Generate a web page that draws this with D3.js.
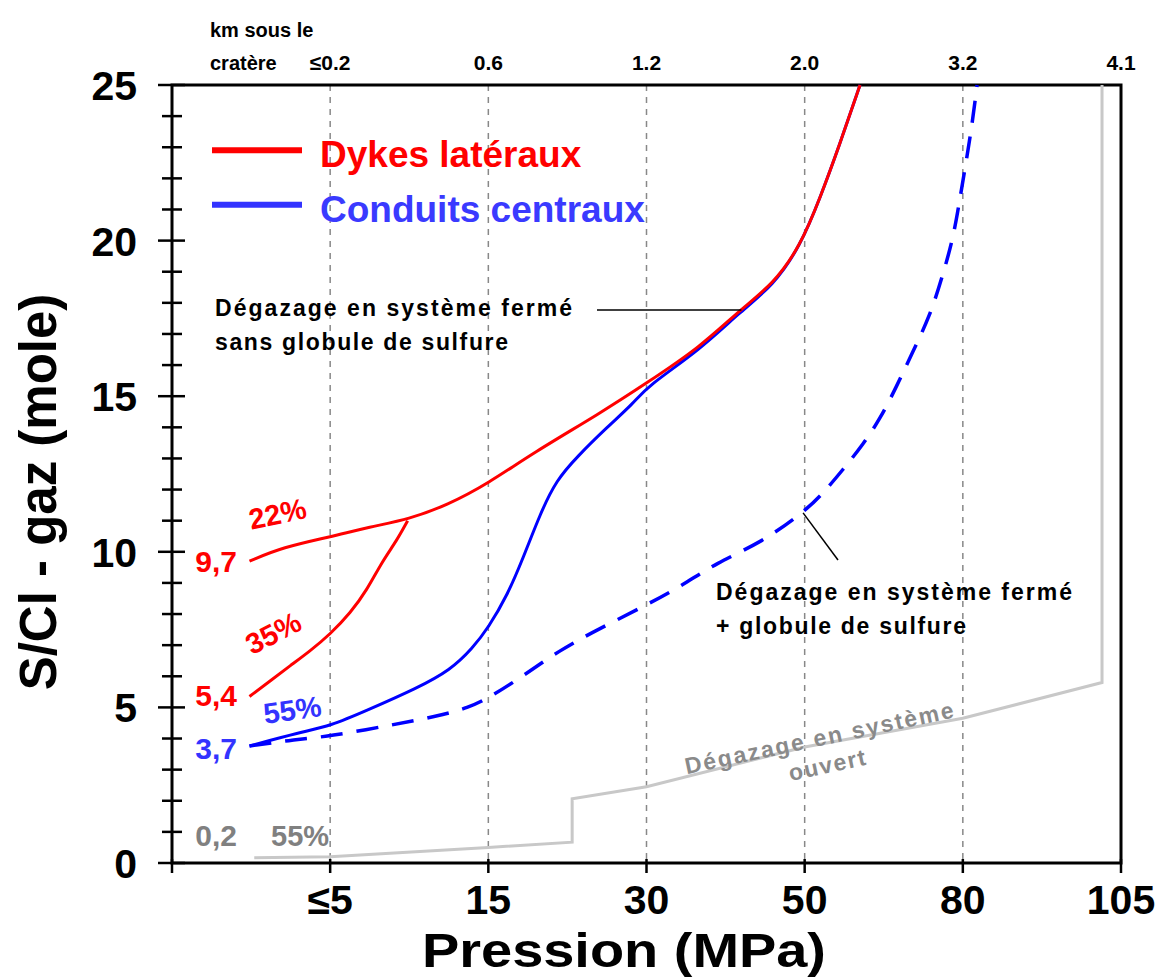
<!DOCTYPE html>
<html>
<head>
<meta charset="utf-8">
<script src="https://cdn.jsdelivr.net/npm/d3@7"></script>
<style>
  body { margin: 0; background: #fff; }
  text { font-family: Arial, "Liberation Sans", sans-serif; font-weight: bold; }
</style>
</head>
<body>
<div id="chart"></div>
<script>
// x positions are slot indexes: 0 = left axis, 1..6 = pressure ticks
var pressureLabels = ["≤5", "15", "30", "50", "80", "105"];
var depthLabels = ["≤0.2", "0.6", "1.2", "2.0", "3.2", "4.1"];
var yTicks = [0, 5, 10, 15, 20, 25];

// Dykes latéraux, 22%
var red22 = [[0.49,9.7],[0.7,10.15],[1.0,10.48],[1.25,10.8],[1.5,11.05],[1.74,11.5],[2.0,12.2],
  [2.28,13.17],[2.71,14.46],[3.0,15.42],[3.34,16.58],[3.59,17.77],[3.8,18.6],[3.97,19.8],
  [4.1,21.4],[4.22,23.07],[4.35,25.0]];
// Dykes latéraux, 35%
var red35 = [[0.49,5.35],[0.62,5.85],[0.75,6.35],[0.87,6.8],[1.0,7.35],[1.13,8.05],[1.23,8.75],
  [1.33,9.7],[1.42,10.35],[1.49,11.0]];
// Conduits centraux, 55%, closed system without sulfide
var blueSolid = [[0.49,3.76],[0.81,4.2],[1.0,4.4],[1.23,4.9],[1.55,5.62],[1.76,6.2],[1.9,6.9],
  [2.0,7.56],[2.12,8.6],[2.22,9.8],[2.33,11.25],[2.43,12.3],[2.56,13.05],[2.75,14.0],[2.92,14.78],
  [3.0,15.3],[3.34,16.5],[3.59,17.7],[3.8,18.55],[3.97,19.8],[4.1,21.4],[4.22,23.07],[4.35,25.0]];
// closed system + sulfide
var blueDash = [[0.49,3.76],[0.75,3.95],[1.0,4.07],[1.38,4.43],[1.67,4.7],[1.88,5.0],[2.0,5.3],
  [2.2,5.94],[2.45,6.84],[2.71,7.55],[3.0,8.29],[3.23,8.93],[3.44,9.64],[3.72,10.28],[3.99,11.25],
  [4.12,11.9],[4.24,12.63],[4.37,13.45],[4.48,14.3],[4.58,15.3],[4.68,16.39],[4.79,17.55],
  [4.87,18.83],[4.94,20.1],[4.98,21.3],[5.02,22.5],[5.06,23.78],[5.09,25.0]];
// open system
var grayOpen = [[0.52,0.17],[1.0,0.2],[2.0,0.5],[2.53,0.67],[2.53,2.06],[3.0,2.45],[4.0,3.73],
  [5.0,4.65],[5.88,5.8],[5.88,25.0]];

var width = 1165, height = 978;
var margin = {left: 172, right: 44, top: 85, bottom: 115};

var svg = d3.select("#chart").append("svg").attr("width", width).attr("height", height);

var x = d3.scaleLinear().domain([0, 6]).range([margin.left, width - margin.right]);
var y = d3.scaleLinear().domain([0, 25]).range([height - margin.bottom, margin.top]);

// dashed grid
svg.selectAll(".grid").data(d3.range(1, 6)).enter().append("line")
  .attr("x1", d => x(d)).attr("x2", d => x(d))
  .attr("y1", y(25)).attr("y2", y(0))
  .attr("stroke", "#888").attr("stroke-width", 1.5).attr("stroke-dasharray", "6,6");

// y ticks (every 1, major every 5)
svg.selectAll(".ytick").data(d3.range(0, 26)).enter().append("line")
  .attr("x1", d => d % 5 == 0 ? x(0) - 14 : x(0) - 10)
  .attr("x2", d => d % 5 == 0 ? x(0) + 13 : x(0) + 10)
  .attr("y1", d => y(d)).attr("y2", d => y(d))
  .attr("stroke", "#000").attr("stroke-width", 2.5);

svg.selectAll(".ylab").data(yTicks).enter().append("text")
  .attr("x", x(0) - 35).attr("y", d => y(d) + 15)
  .attr("text-anchor", "end").attr("font-size", 41).text(d => d);

// x ticks
svg.selectAll(".xtick").data(d3.range(0, 7)).enter().append("line")
  .attr("x1", d => x(d)).attr("x2", d => x(d))
  .attr("y1", y(0) - 4).attr("y2", y(0) + 10)
  .attr("stroke", "#000").attr("stroke-width", 2.5);

svg.selectAll(".xlab").data(pressureLabels).enter().append("text")
  .attr("x", (d, i) => x(i + 1)).attr("y", y(0) + 51)
  .attr("text-anchor", "middle").attr("font-size", 41).text(d => d);

svg.selectAll(".toplab").data(depthLabels).enter().append("text")
  .attr("x", (d, i) => x(i + 1)).attr("y", 70)
  .attr("text-anchor", "middle").attr("font-size", 21).text(d => d);

svg.append("text").attr("x", 210).attr("y", 37).attr("font-size", 20).text("km sous le");
svg.append("text").attr("x", 210).attr("y", 70).attr("font-size", 20).text("cratère");

// frame
svg.append("rect")
  .attr("x", x(0)).attr("y", y(25))
  .attr("width", x(6) - x(0)).attr("height", y(0) - y(25))
  .attr("fill", "none").attr("stroke", "#000").attr("stroke-width", 3);

// axis titles
svg.append("text").attr("x", 624).attr("y", 967)
  .attr("text-anchor", "middle").attr("font-size", 48)
  .attr("textLength", 404).attr("lengthAdjust", "spacingAndGlyphs").text("Pression (MPa)");
svg.append("text").attr("transform", "translate(56," + ((y(0) + y(25)) / 2 + 18) + ") rotate(-90)")
  .attr("text-anchor", "middle").attr("font-size", 51).text("S/Cl - gaz (mole)");

// curves
var smooth = d3.line().x(d => x(d[0])).y(d => y(d[1])).curve(d3.curveBasis);
var straight = d3.line().x(d => x(d[0])).y(d => y(d[1]));

svg.append("path").attr("d", straight(grayOpen))
  .attr("fill", "none").attr("stroke", "#c8c8c8").attr("stroke-width", 3);
svg.append("path").attr("d", smooth(blueDash))
  .attr("fill", "none").attr("stroke", "#0000ff").attr("stroke-width", 3.5)
  .attr("stroke-dasharray", "22,14");
svg.append("path").attr("d", smooth(blueSolid))
  .attr("fill", "none").attr("stroke", "#0000ff").attr("stroke-width", 3);
svg.append("path").attr("d", smooth(red35))
  .attr("fill", "none").attr("stroke", "#ff0000").attr("stroke-width", 3);
svg.append("path").attr("d", smooth(red22))
  .attr("fill", "none").attr("stroke", "#ff0000").attr("stroke-width", 3);

// legend
var legend = [["Dykes latéraux", "#ff0000", "#ff0000", 22.9], ["Conduits centraux", "#3333ff", "#3a3aff", 21.15]];
legend.forEach(function(l) {
  svg.append("line").attr("x1", 212).attr("x2", 302).attr("y1", y(l[3])).attr("y2", y(l[3]))
    .attr("stroke", l[1]).attr("stroke-width", 6);
  svg.append("text").attr("x", 320).attr("y", y(l[3]) + 17).attr("font-size", 37)
    .attr("fill", l[2]).text(l[0]);
});

// start value labels
var startLabels = [["9,7", 9.7, "#ff0000"], ["5,4", 5.4, "#ff0000"], ["3,7", 3.7, "#3333ff"], ["0,2", 0.2, "#808080"]];
svg.selectAll(".start").data(startLabels).enter().append("text")
  .attr("x", 237).attr("y", (d, i) => y(d[1]) + (i == 3 ? -11 : 11))
  .attr("text-anchor", "end").attr("font-size", 30).attr("fill", d => d[2]).text(d => d[0]);

// percentage labels
var pctLabels = [["22%", 0.68, 10.9, -12, "#ff0000"], ["35%", 0.67, 7.1, -27, "#ff0000"],
  ["55%", 0.77, 4.6, -8, "#3333ff"], ["55%", 0.81, 0.55, 0, "#808080"]];
svg.selectAll(".pct").data(pctLabels).enter().append("text")
  .attr("transform", d => "translate(" + x(d[1]) + "," + y(d[2]) + ") rotate(" + d[3] + ")")
  .attr("text-anchor", "middle").attr("font-size", 29).attr("fill", d => d[4]).text(d => d[0]);

// annotations
function note(lines, tx, ty, lens) {
  lines.forEach(function(t, i) {
    svg.append("text").attr("x", tx).attr("y", ty + i * 34).attr("font-size", 23)
      .attr("textLength", lens[i]).attr("lengthAdjust", "spacing").text(t);
  });
}
note(["Dégazage en système fermé", "sans globule de sulfure"], 215, 316, [357, 293]);
note(["Dégazage en système fermé", "+ globule de sulfure"], 716, 600, [356, 250]);

svg.append("line").attr("x1", 597).attr("x2", x(3.6)).attr("y1", 310).attr("y2", 310)
  .attr("stroke", "#000").attr("stroke-width", 1.5);
svg.append("line").attr("x1", x(3.99)).attr("y1", y(11.25)).attr("x2", 838).attr("y2", 560)
  .attr("stroke", "#000").attr("stroke-width", 1.5);

// open system label
[["Dégazage en système", 819, 738, 274], ["ouvert", 827, 765, 78]].forEach(function(t) {
  svg.append("text").attr("transform", "translate(" + t[1] + "," + t[2] + ") rotate(-12)")
    .attr("text-anchor", "middle").attr("font-size", 23).attr("fill", "#8a8a8a")
    .attr("dy", 8).attr("textLength", t[3]).attr("lengthAdjust", "spacing").text(t[0]);
});
</script>
</body>
</html>
